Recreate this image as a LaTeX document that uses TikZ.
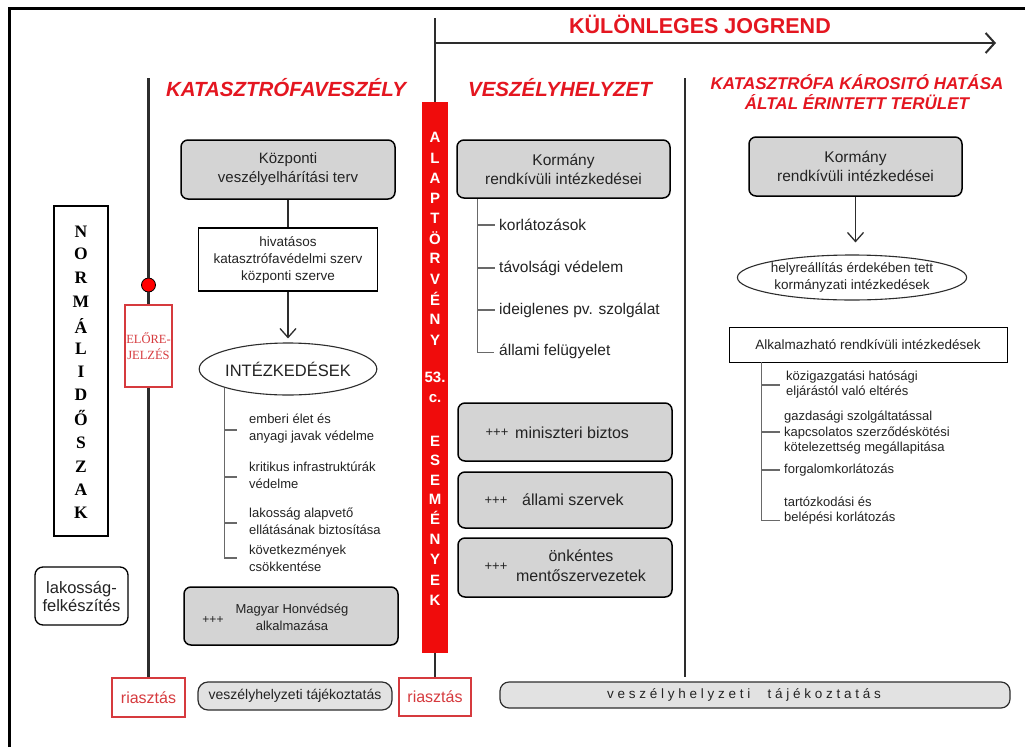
\documentclass[tikz,border=0pt]{standalone}
\usepackage{fontspec}
\setmainfont{Liberation Sans}
\newfontfamily\timesf{Liberation Serif}
\usetikzlibrary{shapes.geometric,arrows.meta}
\definecolor{titlered}{RGB}{228,22,32}
\definecolor{barred}{RGB}{240,12,12}
\definecolor{alarmred}{RGB}{214,58,62}
\definecolor{boxgray}{RGB}{212,212,212}
\definecolor{infogray}{RGB}{226,226,226}
\definecolor{linegray}{RGB}{45,45,45}
\definecolor{treegray}{RGB}{105,105,105}
\definecolor{textgray}{RGB}{35,35,35}
\newcommand{\fsz}[2]{\fontsize{#1}{#2}\selectfont}
\begin{document}
\begin{tikzpicture}[x=1pt,y=-1pt,
  graybox/.style={draw=black, line width=1.5pt, fill=boxgray, rounded corners=7pt, inner sep=0pt, align=center, text=textgray},
  whitebox/.style={draw=black, line width=1.2pt, fill=white, inner sep=0pt, align=center, text=textgray},
  alarmbox/.style={draw=alarmred, line width=1.4pt, fill=white, inner sep=0pt, text=alarmred, font=\fsz{16}{18}},
  title/.style={text=titlered, font=\bfseries\itshape\fsz{20.5}{22}, inner sep=0pt},
  oval/.style={draw=linegray, line width=1.1pt, fill=white, ellipse, inner sep=0pt, align=center, text=textgray},
  treeline/.style={draw=treegray, line width=1.2pt},
  item/.style={anchor=west, align=left, inner sep=0pt, text=textgray},
  mainline/.style={draw=linegray, line width=2.2pt},
  barb/.style={-{Straight Barb[length=9pt,width=16pt,line width=1.3pt]}},
  infobar/.style={draw=linegray, line width=1.2pt, fill=infogray, inner sep=0pt, text=textgray},
  barletter/.style={text=white, font=\bfseries\fsz{15}{15}, inner sep=0pt},
  normletter/.style={text=black, font=\timesf\bfseries\fsz{17.5}{17}, inner sep=0pt},
]
\useasboundingbox (0,0) rectangle (1025,747);
\fill[white] (0,0) rectangle (1025,747);
% frame
\draw[line width=3pt] (9,747) -- (9,8) -- (1025,8);

% ===== left: normal period =====
\node[draw=black, line width=1.5pt, minimum width=54, minimum height=330, inner sep=0pt] (norm) at (81,371) {};
\foreach \ch/\yy [count=\i] in {N/232,O/254,R/278,M/302,Á/326,L/349,I/372,D/395,Ő/418,S/443,Z/467,A/490,K/513}
  \node[normletter] (n\i) at (81,\yy) {\ch};
\node[draw=black, line width=1.3pt, rounded corners=8pt, minimum width=93, minimum height=58, inner sep=0pt, align=center, font=\fsz{16.5}{18}, text=textgray] (lak) at (81.5,596) {lakosság-\\felkészítés};

% timeline
\coordinate (tl0) at (148.5,78);
\node[circle, fill=red, draw=black, line width=0.8pt, minimum size=14, inner sep=0pt] (dot) at (148.5,285) {};
\node[draw=alarmred, line width=1.4pt, fill=white, minimum width=47, minimum height=82, inner sep=0pt, align=center, text=alarmred, font=\timesf\fsz{12.5}{16}] (elo) at (148.5,346) {ELŐRE-\\JELZÉS};
\node[alarmbox, minimum width=73, minimum height=39] (r1) at (148.5,697.5) {riasztás};
\draw[mainline] (tl0) -- (dot);
\draw[mainline] (dot) -- (elo);
\draw[mainline] (elo) -- (r1);
\node[infobar, rounded corners=10pt, minimum width=194, minimum height=28, font=\fsz{14}{14}] (inf1) at (295,696) {veszélyhelyzeti tájékoztatás};

% ===== column 1: katasztrófaveszély =====
\node[title] (t1) at (286,88) {KATASZTRÓFAVESZÉLY};
\node[graybox, minimum width=214, minimum height=59, font=\fsz{15}{19}] (kozp) at (288,169.5) {Központi\\veszélyelhárítási terv};
\node[whitebox, minimum width=179, minimum height=63, font=\fsz{13.5}{17}] (hiv) at (288,259.5) {hivatásos\\katasztrófavédelmi szerv\\központi szerve};
\node[oval, minimum width=170, minimum height=52, font=\fsz{16.5}{18}] (intez) at (288,369) {INTÉZKEDÉSEK};
\draw[mainline] (kozp) -- (hiv);
\draw[mainline, line width=1.8pt, barb, shorten >=4pt] (hiv) -- (intez);
\draw[treeline] (intez.south west) -- (intez.south west |- 0,558) -- ++(12,0);
\foreach \yy in {430,477,523}
  \draw[treeline] (intez.south west |- 0,\yy) -- ++(12,0);
\node[item, font=\fsz{13}{17}] (i1) at (249,428.5) {emberi élet és\\anyagi javak védelme};
\node[item, font=\fsz{13}{17}] (i2) at (249,475.5) {kritikus infrastruktúrák\\védelme};
\node[item, font=\fsz{13}{17}] (i3) at (249,521) {lakosság alapvető\\ellátásának biztosítása};
\node[item, font=\fsz{13}{17}] (i4) at (249,558) {következmények\\csökkentése};
\node[graybox, minimum width=214, minimum height=58] (mh) at (291,616) {};
\node[text=textgray, font=\fsz{13}{17}, align=center, inner sep=0pt] (mht) at (292,617) {Magyar Honvédség\\alkalmazása};
\node[text=textgray, font=\fsz{12}{12}, inner sep=0pt] (mhp) at (213,620) {+++};

% ===== red bar =====
\coordinate (top) at (435,18);
\node[fill=barred, minimum width=26, minimum height=551, inner sep=0pt] (bar) at (435,377.5) {};
\foreach \ch/\yy [count=\i] in {A/137,L/158,A/178,P/198,T/218,Ö/238,R/258,V/279,É/299,N/319,Y/340,53./377,c./399,E/441,S/460,E/480,M/499,É/518,N/539,Y/559,E/580,K/600}
  \node[barletter] (b\i) at (435,\yy) {\ch};
\draw[mainline] (top) -- (bar);
\node[alarmbox, minimum width=72, minimum height=38] (r2) at (435,697) {riasztás};
\draw[mainline] (bar) -- (r2);
\coordinate (jg0) at (435,43);
\coordinate (jg1) at (996,43);
\draw[draw=linegray, line width=2pt, -{Straight Barb[length=9pt,width=20pt,line width=2pt]}] (jg0) -- (jg1);
\node[text=titlered, font=\bfseries\fsz{21.5}{22}, inner sep=0pt] (jog) at (700,24) {KÜLÖNLEGES JOGREND};

% ===== column 2: veszélyhelyzet =====
\node[title, font=\bfseries\itshape\fsz{20.5}{22}] (t2) at (560,88) {VESZÉLYHELYZET};
\node[graybox, minimum width=213, minimum height=58, font=\fsz{15.5}{19}] (km) at (563.5,169) {Kormány\\rendkívüli intézkedései};
\draw[treeline] ([xshift=21pt]km.south west) -- ++(0,154) -- ++(17,0);
\foreach \yy in {225,268,310}
  \draw[treeline] (478,\yy) -- ++(17,0);
\node[item, font=\fsz{15.5}{18}] (m1) at (499,225) {korlátozások};
\node[item, font=\fsz{15.5}{18}] (m2) at (499,268) {távolsági védelem};
\node[item, font=\fsz{15.5}{18}] (m3) at (499,310) {ideiglenes pv. szolgálat};
\node[item, font=\fsz{15.5}{18}] (m4) at (499,351) {állami felügyelet};
\node[graybox, minimum width=214, minimum height=58] (g1) at (565,432) {};
\node[graybox, minimum width=214, minimum height=56] (g2) at (565,500) {};
\node[graybox, minimum width=214, minimum height=59] (g3) at (565,567.5) {};
\node[text=textgray, font=\fsz{13}{13}, inner sep=0pt] (p1) at (497,433) {+++};
\node[text=textgray, font=\fsz{16}{18}, inner sep=0pt, anchor=west] (g1t) at (515,433) {miniszteri biztos};
\node[text=textgray, font=\fsz{13}{13}, inner sep=0pt] (p2) at (496,501) {+++};
\node[text=textgray, font=\fsz{16}{18}, inner sep=0pt, anchor=west] (g2t) at (522,500) {állami szervek};
\node[text=textgray, font=\fsz{13}{13}, inner sep=0pt] (p3) at (496,567) {+++};
\node[text=textgray, font=\fsz{16}{20}, inner sep=0pt, align=center] (g3t) at (581,566) {önkéntes\\mentőszervezetek};

% divider
\coordinate (d0) at (685,78);
\coordinate (d1) at (685,677);
\draw[mainline] (d0) -- (d1);

% ===== column 3 =====
\node[title, font=\bfseries\itshape\fsz{17}{20}, align=center] (t3) at (857,92) {KATASZTRÓFA KÁROSITÓ HATÁSA\\ÁLTAL ÉRINTETT TERÜLET};
\node[graybox, minimum width=213, minimum height=59, font=\fsz{15.5}{19}] (kr) at (855.5,166.5) {Kormány\\rendkívüli intézkedései};
\node[oval, minimum width=227, minimum height=45, font=\fsz{13.5}{16.5}] (hely) at (852,277.5) {helyreállítás érdekében tett\\kormányzati intézkedések};
\draw[mainline, line width=1.8pt, barb, shorten >=12pt] (kr.south) -- (kr.south |- hely.north);
\node[whitebox, line width=0.9pt, minimum width=278, minimum height=35, font=\fsz{13.5}{15}] (alk) at (868,344.5) {Alkalmazható rendkívüli intézkedések};
\draw[treeline] ([xshift=33pt]alk.south west) -- ++(0,158) -- ++(18,0);
\foreach \yy in {385,432,470}
  \draw[treeline] (762,\yy) -- ++(18,0);
\node[item, font=\fsz{13}{15.5}] (a1) at (786,384.5) {közigazgatási hatósági\\eljárástól való eltérés};
\node[item, font=\fsz{13}{15.5}] (a2) at (784,433) {gazdasági szolgáltatással\\kapcsolatos szerződéskötési\\kötelezettség megállapitása};
\node[item, font=\fsz{13}{15.5}] (a3) at (784,470) {forgalomkorlátozás};
\node[item, font=\fsz{13}{15.5}] (a4) at (784,510.5) {tartózkodási és\\belépési korlátozás};

% big info bar
\node[infobar, rounded corners=9pt, minimum width=510, minimum height=26] (inf2) at (755,695) {};
\node[text=textgray, font=\fsz{13.5}{14}, inner sep=0pt] (inf2t) at (744,695) {v e s z é l y h e l y z e t i \quad t á j é k o z t a t á s};
\end{tikzpicture}
\end{document}
